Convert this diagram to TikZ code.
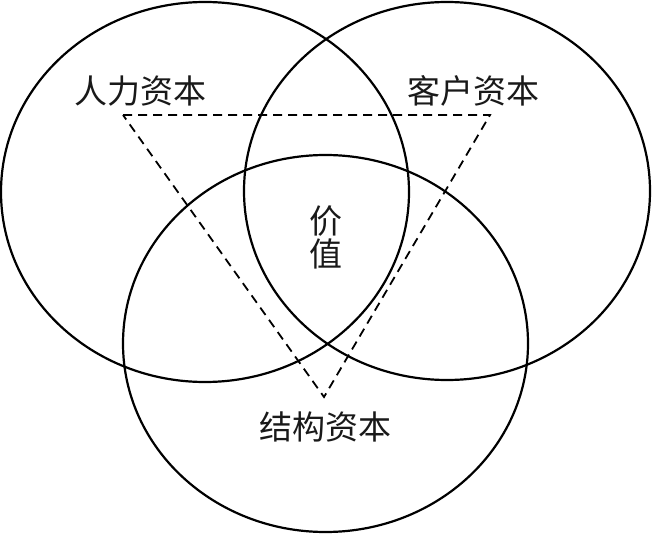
\documentclass[tikz,border=0pt]{standalone}
\usepackage{fontspec}
\newfontfamily\cjk{Noto Sans CJK SC}
\begin{document}
\begin{tikzpicture}[x=1pt,y=-1pt,
  ring/.style={draw=black,line width=2.2pt},
  tri/.style={draw=black,line width=1.8pt,dash pattern=on 9pt off 6pt},
  lbl/.style={font=\cjk\fontsize{33}{36}\selectfont,inner sep=0pt,text=black!90}]
\useasboundingbox (0,0) rectangle (652,534);
\draw[ring] (205,192) ellipse [x radius=204, y radius=190];
\draw[ring] (447,191) ellipse [x radius=203, y radius=189];
\draw[ring] (325.5,343.5) ellipse [x radius=202.5, y radius=188.5];
\coordinate (h) at (123,115);
\coordinate (c) at (490,115);
\coordinate (s) at (324,397);
\draw[tri] (h) -- (c) -- (s) -- cycle;
\node[lbl] (hl) at (140,91) {人力资本};
\node[lbl] (cl) at (473,91) {客户资本};
\node[lbl,align=center] (vl) at (326,237) {价\\[-3pt]值};
\node[lbl] (sl) at (325,427) {结构资本};
\end{tikzpicture}
\end{document}
